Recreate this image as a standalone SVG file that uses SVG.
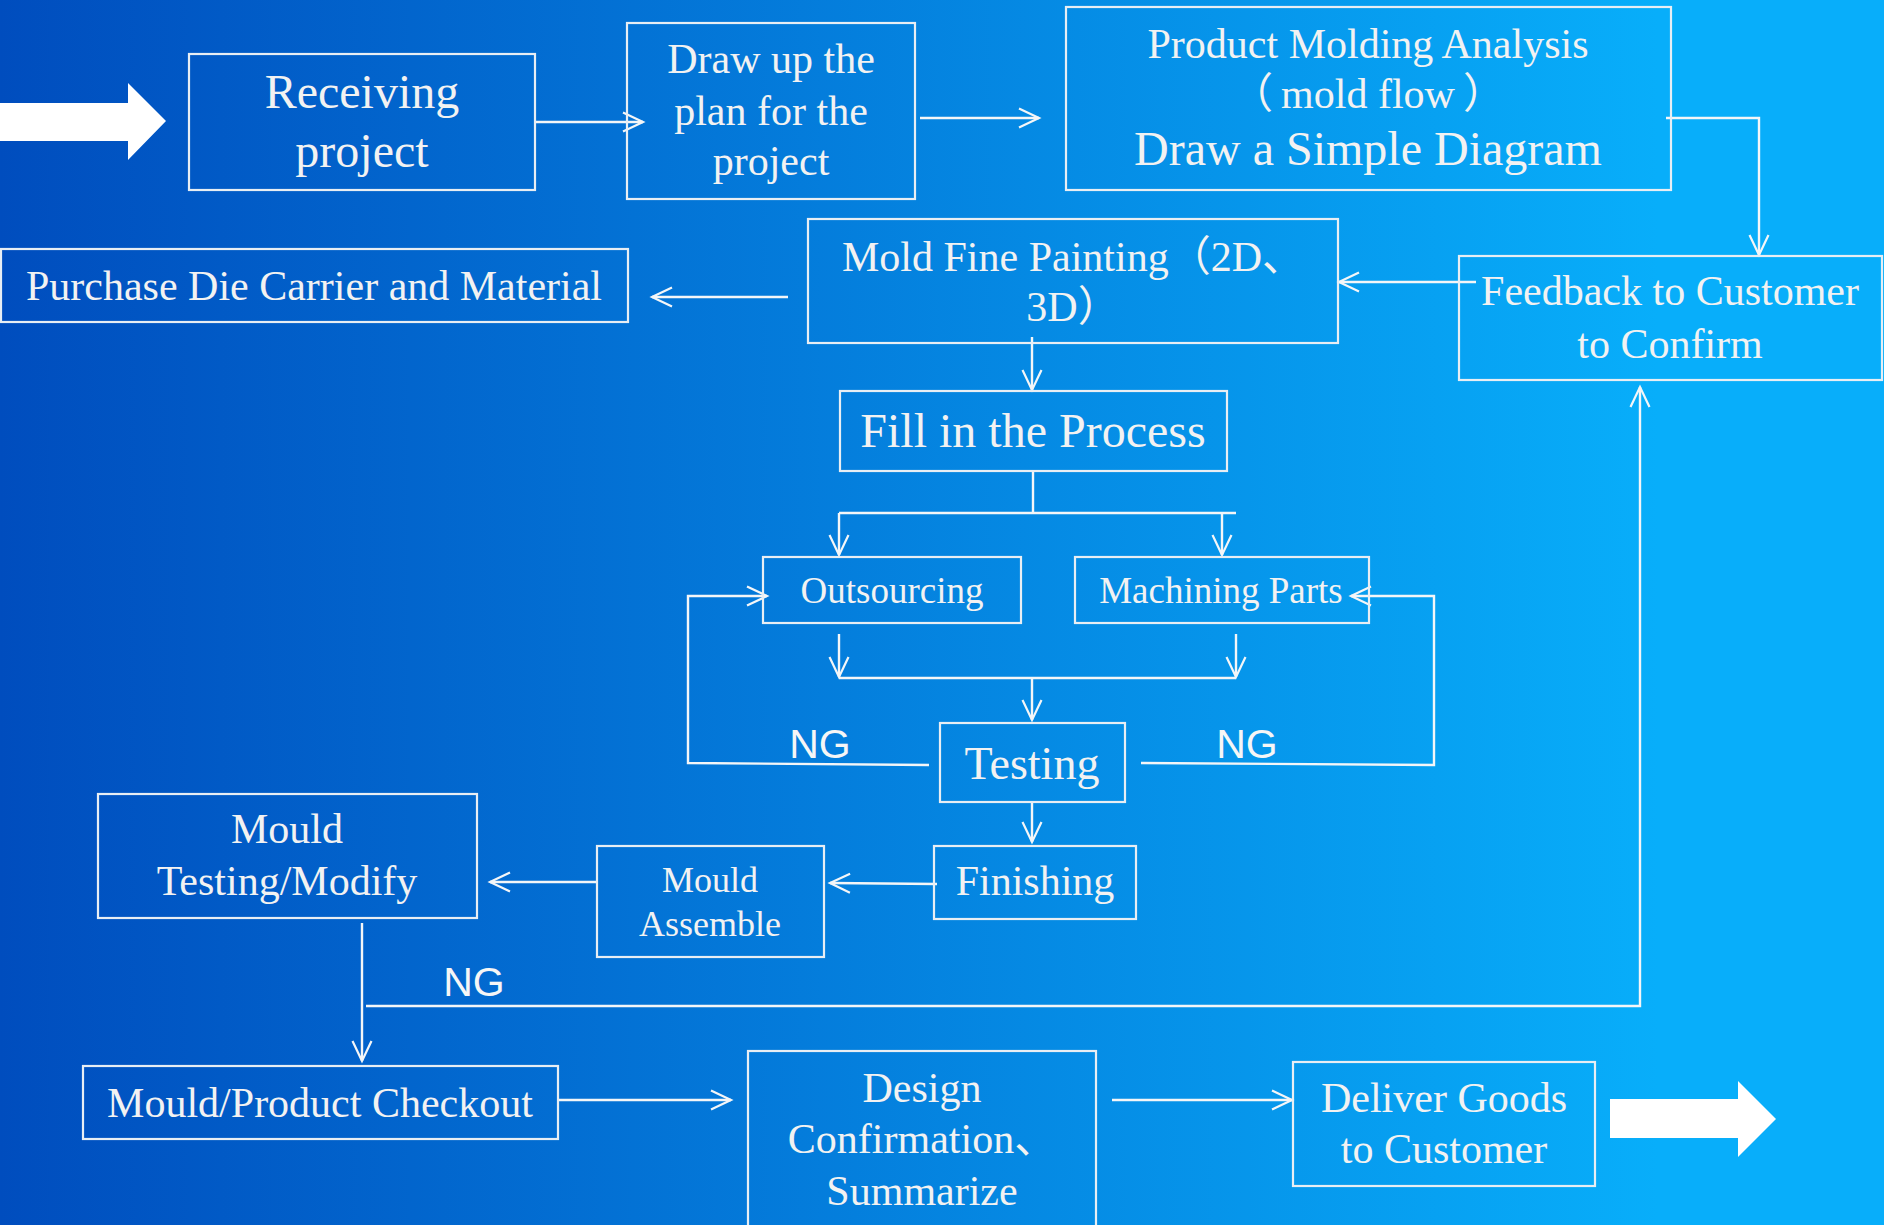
<svg xmlns="http://www.w3.org/2000/svg" width="1884" height="1225" viewBox="0 0 1884 1225">
<defs>
<linearGradient id="bg" x1="0" y1="0" x2="1" y2="0">
<stop offset="0" stop-color="#004DBE"/>
<stop offset="0.88" stop-color="#08AEFA"/>
<stop offset="1" stop-color="#08AEFA"/>
</linearGradient>
<marker id="ah" markerUnits="userSpaceOnUse" markerWidth="26" markerHeight="26" viewBox="-23 -13 26 26" refX="0" refY="0" orient="auto" overflow="visible">
<path d="M -20 -9.5 L 0 0 L -20 9.5" fill="none" stroke="#F4F6F8" stroke-width="2.2"/>
</marker>
<style>
.box{fill:none;stroke:#E8EEF4;stroke-width:2.2}
.t{font-family:"Liberation Serif","Noto Sans CJK SC",serif;fill:#F2F2F2;text-anchor:middle}
.ng{font-family:"Liberation Sans",Arial,sans-serif;fill:#F6F6F6;text-anchor:middle;font-size:41px}
.c{fill:none;stroke:#F4F6F8;stroke-width:2.4}
.a{marker-end:url(#ah)}
.big{fill:#FFFFFF}
</style>
</defs>
<rect x="0" y="0" width="1884" height="1225" fill="url(#bg)"/>

<polygon class="big" points="0,103 128,103 128,83 166,121 128,160 128,141 0,141"/>
<polygon class="big" points="1610,1099 1738,1099 1738,1081 1776,1119 1738,1157 1738,1138 1610,1138"/>

<g id="connectors">
<line class="c a" x1="535" y1="122" x2="643" y2="122"/>
<line class="c a" x1="920" y1="118" x2="1039" y2="118"/>
<polyline class="c a" points="1666,118 1759,118 1759,255"/>
<line class="c a" x1="1476" y1="282" x2="1339" y2="282"/>
<line class="c a" x1="788" y1="297" x2="652" y2="297"/>
<line class="c a" x1="1032" y1="337" x2="1032" y2="390"/>
<line class="c" x1="1033" y1="471" x2="1033" y2="513"/>
<line class="c" x1="839" y1="513" x2="1236" y2="513"/>
<line class="c a" x1="839" y1="513" x2="839" y2="555"/>
<line class="c a" x1="1222" y1="513" x2="1222" y2="555"/>
<line class="c a" x1="839" y1="634" x2="839" y2="677"/>
<line class="c a" x1="1236" y1="634" x2="1236" y2="677"/>
<line class="c" x1="839" y1="678" x2="1236" y2="678"/>
<line class="c a" x1="1032" y1="678" x2="1032" y2="720"/>
<polyline class="c a" points="929,765 688,763 688,596 767,596"/>
<polyline class="c a" points="1141,763 1434,765 1434,596 1351,596"/>
<line class="c a" x1="1032" y1="802" x2="1032" y2="842"/>
<line class="c a" x1="937" y1="884" x2="830" y2="883"/>
<line class="c a" x1="597" y1="882" x2="490" y2="882"/>
<line class="c a" x1="362" y1="923" x2="362" y2="1061"/>
<polyline class="c a" points="366,1006 1640,1006 1640,387"/>
<line class="c a" x1="557" y1="1100" x2="731" y2="1100"/>
<line class="c a" x1="1112" y1="1100" x2="1292" y2="1100"/>
<text class="ng" x="820" y="758">NG</text>
<text class="ng" x="1247" y="758">NG</text>
<text class="ng" x="474" y="996">NG</text>
</g>

<g id="receiving">
<rect class="box" x="189" y="54" width="346" height="136"/>
<text class="t" font-size="48" x="362" y="108">Receiving</text>
<text class="t" font-size="48" x="362" y="167">project</text>
</g>
<g id="drawplan">
<rect class="box" x="627" y="23" width="288" height="176"/>
<text class="t" font-size="42" x="771" y="73">Draw up the</text>
<text class="t" font-size="42" x="771" y="125">plan for the</text>
<text class="t" font-size="42" x="771" y="175">project</text>
</g>
<g id="molding">
<rect class="box" x="1066" y="7" width="605" height="183"/>
<text class="t" font-size="42" x="1368" y="58">Product Molding Analysis</text>
<text class="t" font-size="42" x="1368" y="108">（<tspan dx="8">mold flow</tspan><tspan dx="8">）</tspan></text>
<text class="t" font-size="48" x="1368" y="165">Draw a Simple Diagram</text>
</g>
<g id="purchase">
<rect class="box" x="1" y="249" width="627" height="73"/>
<text class="t" font-size="42" x="314" y="300">Purchase Die Carrier and Material</text>
</g>
<g id="finepainting">
<rect class="box" x="808" y="219" width="530" height="124"/>
<text class="t" font-size="42" x="1073" y="271">Mold Fine Painting（2D、</text>
<text class="t" font-size="42" x="1073" y="321">3D）</text>
</g>
<g id="feedback">
<rect class="box" x="1459" y="256" width="423" height="124"/>
<text class="t" font-size="42" x="1670" y="305">Feedback to Customer</text>
<text class="t" font-size="42" x="1670" y="358">to Confirm</text>
</g>
<g id="fill">
<rect class="box" x="840" y="391" width="387" height="80"/>
<text class="t" font-size="48" x="1033" y="447">Fill in the Process</text>
</g>
<g id="outsourcing">
<rect class="box" x="763" y="557" width="258" height="66"/>
<text class="t" font-size="37" x="892" y="603">Outsourcing</text>
</g>
<g id="machining">
<rect class="box" x="1075" y="557" width="294" height="66"/>
<text class="t" font-size="37" x="1221" y="603">Machining Parts</text>
</g>
<g id="testing">
<rect class="box" x="940" y="723" width="185" height="79"/>
<text class="t" font-size="46" x="1032" y="779">Testing</text>
</g>
<g id="finishing">
<rect class="box" x="934" y="846" width="202" height="73"/>
<text class="t" font-size="42" x="1035" y="895">Finishing</text>
</g>
<g id="assemble">
<rect class="box" x="597" y="846" width="227" height="111"/>
<text class="t" font-size="36" x="710" y="892">Mould</text>
<text class="t" font-size="36" x="710" y="936">Assemble</text>
</g>
<g id="mouldtesting">
<rect class="box" x="98" y="794" width="379" height="124"/>
<text class="t" font-size="42" x="287" y="843">Mould</text>
<text class="t" font-size="42" x="287" y="895">Testing/Modify</text>
</g>
<g id="checkout">
<rect class="box" x="83" y="1066" width="475" height="73"/>
<text class="t" font-size="42" x="320" y="1117">Mould/Product Checkout</text>
</g>
<g id="design">
<rect class="box" x="748" y="1051" width="348" height="200"/>
<text class="t" font-size="42" x="922" y="1102">Design</text>
<text class="t" font-size="42" x="922" y="1153">Confirmation、</text>
<text class="t" font-size="42" x="922" y="1205">Summarize</text>
</g>
<g id="deliver">
<rect class="box" x="1293" y="1062" width="302" height="124"/>
<text class="t" font-size="42" x="1444" y="1112">Deliver Goods</text>
<text class="t" font-size="42" x="1444" y="1163">to Customer</text>
</g>
</svg>
